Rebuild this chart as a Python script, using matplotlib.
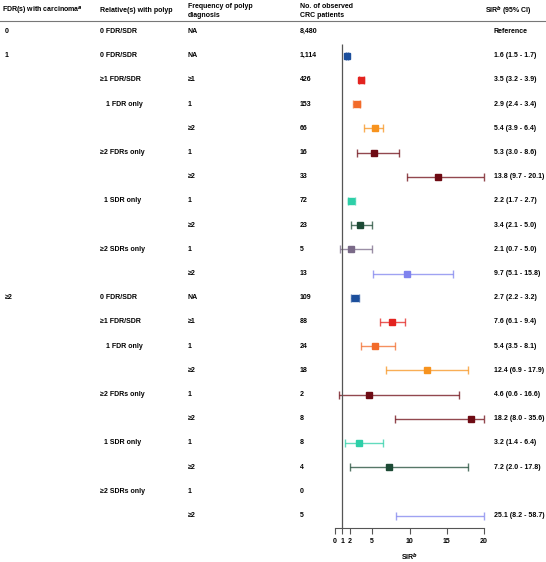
import numpy as np
import matplotlib.pyplot as plt
import matplotlib.transforms as mtransforms
from matplotlib.lines import Line2D

plt.rcParams['font.family'] = ['Liberation Sans', 'DejaVu Sans']
plt.rcParams['font.weight'] = 'bold'
plt.rcParams['mathtext.fontset'] = 'custom'
plt.rcParams['mathtext.rm'] = 'Liberation Sans:bold'
plt.rcParams['mathtext.bf'] = 'Liberation Sans:bold'

# Dati
carcinoma = ["0", "1", "", "", "", "", "", "", "", "", "",
             "≥2", "", "", "", "", "", "", "", "", ""]
relatives = ["0 FDR/SDR",
             "0 FDR/SDR", "≥1 FDR/SDR", "1 FDR only", "", "≥2 FDRs only", "",
             "1 SDR only", "", "≥2 SDRs only", "",
             "0 FDR/SDR", "≥1 FDR/SDR", "1 FDR only", "", "≥2 FDRs only", "",
             "1 SDR only", "", "≥2 SDRs only", ""]
frequency = ["NA", "NA", "≥1", "1", "≥2", "1", "≥2", "1", "≥2", "1", "≥2",
             "NA", "≥1", "1", "≥2", "1", "≥2", "1", "≥2", "1", "≥2"]
n_patients = ["8,480", "1,114", "426", "153", "66", "16", "33", "72", "23", "5", "13",
              "109", "88", "24", "18", "2", "8", "8", "4", "0", "5"]
sir = [np.nan, 1.6, 3.5, 2.9, 5.4, 5.3, 13.8, 2.2, 3.4, 2.1, 9.7,
       2.7, 7.6, 5.4, 12.4, 4.6, 18.2, 3.2, 7.2, np.nan, 25.1]
ci_low = [np.nan, 1.5, 3.2, 2.4, 3.9, 3.0, 9.7, 1.7, 2.1, 0.7, 5.1,
          2.2, 6.1, 3.5, 6.9, 0.6, 8.0, 1.4, 2.0, np.nan, 8.2]
ci_high = [np.nan, 1.7, 3.9, 3.4, 6.4, 8.6, 20.1, 2.7, 5.0, 5.0, 15.8,
           3.2, 9.4, 8.1, 17.9, 16.6, 35.6, 6.4, 17.8, np.nan, 58.7]
sir_text = ["Reference", "1.6 (1.5 - 1.7)", "3.5 (3.2 - 3.9)", "2.9 (2.4 - 3.4)",
            "5.4 (3.9 - 6.4)", "5.3 (3.0 - 8.6)", "13.8 (9.7 - 20.1)", "2.2 (1.7 - 2.7)",
            "3.4 (2.1 - 5.0)", "2.1 (0.7 - 5.0)", "9.7 (5.1 - 15.8)",
            "2.7 (2.2 - 3.2)", "7.6 (6.1 - 9.4)", "5.4 (3.5 - 8.1)", "12.4 (6.9 - 17.9)",
            "4.6 (0.6 - 16.6)", "18.2 (8.0 - 35.6)", "3.2 (1.4 - 6.4)", "7.2 (2.0 - 17.8)",
            "", "25.1 (8.2 - 58.7)"]
xticks = [0, 1, 2, 5, 10, 15, 20]

# colori per sottogruppo
group_colors = ["#1c4f9c", "#e3231f", "#f26b2a", "#f7931e", "#6e0b14", "#6e0b14",
                "#2ecfa8", "#1d4a35", "#7a6a88", "#7f83ee"]
colors = ["#000000"] + group_colors + group_colors

W, H = 546, 562
fig = plt.figure(figsize=(W / 100, H / 100), dpi=100)

# assi del forest plot (pixel)
x0, x1 = 335, 484
y_top, y_bot = 21, 528
row0, step = 31.5, 24.2
ax = fig.add_axes([x0 / W, 1 - y_bot / H, (x1 - x0) / W, (y_bot - y_top) / H])
xmax = 20
ax.set_xlim(0, xmax)
ax.set_ylim((y_bot - row0) / step, (y_top - row0) / step)

rows = np.arange(len(sir))
for i in rows:
    if np.isnan(sir[i]):
        continue
    lo = ci_low[i]
    hi = min(ci_high[i], xmax)
    c = colors[i]
    # intervallo di confidenza (tagliato a 20 come nell'originale)
    ax.plot([lo, hi], [i, i], color=c, alpha=0.75, lw=1.0, solid_capstyle='butt')
    ax.plot([lo, hi], [i, i], color=c, alpha=0.75, marker='|', ms=5.5, mew=1.0,
            linestyle='none', clip_on=False)
    ax.plot([sir[i]], [i], marker='s', ms=5, color=c, linestyle='none')

ax.vlines(1, 0.5, (y_bot - row0) / step, color="#555555", lw=0.9)

for s in ['top', 'right', 'left']:
    ax.spines[s].set_visible(False)
ax.spines['bottom'].set_bounds(0, 20)
ax.spines['bottom'].set_color("#555555")
ax.set_yticks([])
ax.set_xticks(xticks)
ax.set_xticklabels([str(t) for t in xticks], fontsize=5, fontweight='bold')
ax.tick_params(axis='x', length=4, width=0.8, color="#555555", pad=3)
ax.set_xlabel("SIR$^{b}$", fontsize=5, fontweight='bold', labelpad=5)

# colonne di testo
tr = mtransforms.blended_transform_factory(fig.transFigure, ax.transData)
fs = 5
rel_x = {"1 FDR only": 106, "1 SDR only": 104}
for i in rows:
    kw = dict(transform=tr, fontsize=fs, fontweight='bold', va='center', ha='left',
              clip_on=False)
    fig.text(5 / W, i, carcinoma[i], **kw)
    fig.text(rel_x.get(relatives[i], 100) / W, i, relatives[i], **kw)
    fig.text(188 / W, i, frequency[i], **kw)
    fig.text(300 / W, i, n_patients[i], **kw)
    fig.text(494 / W, i, sir_text[i], **kw)

# intestazione
hk = dict(fontsize=fs, fontweight='bold', va='center', ha='left')
fig.text(2 / W, 1 - 11 / H, "FDR(s) with carcinoma$^{a}$", **hk)
fig.text(100 / W, 1 - 11 / H, "Relative(s) with polyp", **hk)
fig.text(188 / W, 1 - 11 / H, "Frequency of polyp\ndiagnosis", linespacing=1.3, **hk)
fig.text(300 / W, 1 - 11 / H, "No. of observed\nCRC patients", linespacing=1.3, **hk)
fig.text(485 / W, 1 - 11 / H, "SIR$^{b}$ (95% CI)", **hk)
fig.add_artist(Line2D([0, 1], [1 - y_top / H, 1 - y_top / H], color="#777777", lw=0.8,
                      transform=fig.transFigure))

fig.savefig("out.png", dpi=100)
